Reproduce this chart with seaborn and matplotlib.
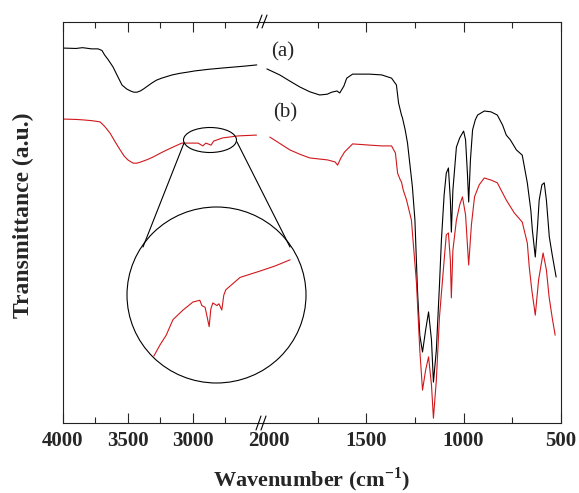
import seaborn as sns
import pandas as pd
import numpy as np
import matplotlib.pyplot as plt
from matplotlib.patches import Ellipse
from matplotlib.lines import Line2D

# FTIR spectra, transmittance in arbitrary units (0-100 scale)
wn_a = [4000, 3900, 3850, 3780, 3730, 3700, 3680, 3650, 3615, 3580, 3546, 3510, 3480,
        3455, 3430, 3405, 3380, 3350, 3315, 3280, 3240, 3200, 3160, 3100, 3040, 2985,
        2880, 2780, 2600, 2508,
        2010, 1944, 1890, 1841, 1790, 1739, 1700, 1677, 1650, 1636, 1615, 1600, 1570,
        1549, 1483, 1420, 1370, 1345, 1334, 1319, 1314, 1300, 1288, 1263, 1250, 1237,
        1225, 1211, 1195, 1180, 1165, 1155, 1140, 1124, 1114, 1100, 1089, 1078, 1068,
        1063, 1055, 1037, 1020, 1000, 990, 980, 974, 965, 954, 940, 928, 894, 860, 827,
        800, 781, 760, 729, 699, 673, 655, 647, 632, 620, 612, 598, 586, 575, 560, 545,
        525]
t_a = [93.5, 93.4, 93.6, 93.3, 93.3, 92.9, 91.8, 90.5, 88.8, 86.5, 84.3, 83.3, 82.8,
       82.5, 82.5, 82.8, 83.3, 84.0, 84.8, 85.5, 86.0, 86.4, 86.8, 87.2, 87.5, 87.8,
       88.2, 88.5, 89.0, 89.3,
       88.3, 86.8, 85.2, 83.8, 82.6, 81.8, 82.0, 82.5, 82.8, 82.3, 84.0, 86.0, 87.0,
       87.0, 87.0, 86.8, 86.0, 84.3, 79.8, 76.8, 76.1, 73.1, 69.8, 58.9, 50.6, 33.2,
       21.9, 17.7, 23.2, 27.7, 20.7, 10.2, 18.2, 34.4, 45.6, 56.9, 62.3, 63.6, 55.6,
       47.6, 58.1, 68.8, 71.1, 72.8, 70.6, 61.8, 55.1, 65.6, 73.1, 75.6, 76.8, 77.8,
       77.6, 76.8, 74.3, 71.8, 70.6, 68.1, 66.8, 59.9, 53.1, 48.1, 41.4, 49.4, 55.6,
       59.4, 59.9, 55.6, 46.4, 41.9, 36.4]

wn_b = [4000, 3900, 3850, 3780, 3715, 3680, 3638, 3600, 3560, 3530, 3500, 3460, 3430,
        3400, 3350, 3308, 3250, 3200, 3140, 3085, 2960, 2923, 2900, 2860, 2840, 2770,
        2650, 2510,
        1995, 1940, 1892, 1840, 1790, 1698, 1660, 1647, 1630, 1611, 1570, 1483, 1420,
        1370, 1350, 1339, 1325, 1319, 1310, 1293, 1268, 1242, 1225, 1211, 1195, 1180,
        1165, 1155, 1140, 1124, 1100, 1089, 1078, 1068, 1063, 1055, 1037, 1020, 1006,
        990, 974, 960, 944, 920, 894, 860, 827, 781, 740, 699, 673, 663, 650, 632, 615,
        592, 575, 561, 545, 530]
t_b = [75.8, 75.7, 75.6, 75.4, 75.1, 74.0, 72.3, 70.2, 68.1, 66.6, 65.6, 64.8, 64.8,
       65.1, 65.7, 66.3, 67.3, 68.1, 69.0, 69.8, 69.8, 69.1, 69.8, 69.3, 70.3, 71.1,
       71.6, 71.8,
       71.3, 69.6, 68.1, 67.0, 66.1, 65.6, 65.1, 64.3, 66.1, 67.6, 69.6, 69.3, 69.1,
       69.1, 67.3, 62.3, 60.6, 60.1, 58.1, 55.6, 50.6, 34.9, 18.2, 8.2, 13.2, 16.5,
       9.5, 1.2, 10.7, 26.4, 40.6, 46.9, 47.4, 40.6, 31.2, 43.1, 50.6, 54.4, 56.4,
       51.9, 39.4, 49.4, 56.4, 59.4, 61.1, 60.6, 59.9, 55.6, 52.4, 50.1, 44.9, 38.9,
       33.2, 26.9, 35.7, 42.4, 38.2, 31.4, 26.2, 21.9]

# magnified C-H region of spectrum (b) shown in the circle
wn_zoom = [3044, 3029, 3014, 2997, 2972, 2948, 2931, 2926, 2918, 2908, 2904, 2899,
           2889, 2884, 2877, 2872, 2867, 2832, 2783, 2746, 2709]
t_zoom = [15.3, 21.6, 27.0, 36.0, 41.5, 46.0, 47.0, 44.0, 43.0, 32.0, 42.0, 45.5,
          44.0, 45.0, 41.5, 50.0, 53.0, 60.0, 63.6, 66.5, 70.0]

ticks_hi = [4000, 3500, 3000]
ticks_lo = [2000, 1500, 1000, 500]
red = "#d0181c"

df = pd.concat([
    pd.DataFrame({"wn": wn_a, "t": t_a, "sample": "a"}),
    pd.DataFrame({"wn": wn_b, "t": t_b, "sample": "b"}),
])
pal = {"a": "black", "b": red}

sns.set_style("ticks")
plt.rcParams["font.family"] = ["Liberation Serif", "DejaVu Serif"]
plt.rcParams["mathtext.fontset"] = "custom"
plt.rcParams["mathtext.rm"] = "Liberation Serif"
plt.rcParams["mathtext.bf"] = "Liberation Serif:bold"

W, H = 579, 493
fig = plt.figure(figsize=(W / 100, H / 100), dpi=100)
ax1 = fig.add_axes([63 / W, 1 - 423 / H, 200 / W, 401 / H])
ax2 = fig.add_axes([263 / W, 1 - 423 / H, 298 / W, 401 / H])

sns.lineplot(data=df[df.wn > 2300], x="wn", y="t", hue="sample", palette=pal,
             estimator=None, linewidth=0.8, legend=False, ax=ax1)
sns.lineplot(data=df[df.wn < 2300], x="wn", y="t", hue="sample", palette=pal,
             estimator=None, linewidth=0.8, legend=False, ax=ax2)

ax1.set_xlim(4000, 2460)
ax2.set_xlim(2030, 500)
for ax in (ax1, ax2):
    ax.set_ylim(0, 100)
    ax.set_xlabel("")
    ax.set_ylabel("")
    ax.tick_params(left=False, right=False, labelleft=False)
    ax.tick_params(axis="x", which="major", direction="in", top=True, bottom=True,
                   length=7, width=0.8, pad=6, labelsize=15)
    ax.tick_params(axis="x", which="minor", direction="in", top=True, bottom=True,
                   length=4, width=0.8)
    for s in ax.spines.values():
        s.set_linewidth(0.8)
        s.set_color("#222222")
ax1.spines["right"].set_visible(False)
ax2.spines["left"].set_visible(False)

ax1.set_xticks(ticks_hi)
ax1.set_xticks([3750, 3250, 2750], minor=True)
ax2.set_xticks(ticks_lo)
ax2.set_xticks([1750, 1250, 750], minor=True)
for ax in (ax1, ax2):
    for lab in ax.get_xticklabels():
        lab.set_fontweight("bold")
t0 = ax2.xaxis.get_major_ticks()[0]
t0.tick1line.set_visible(False)
t0.tick2line.set_visible(False)

# zoomed inset
ins = fig.add_axes([127 / W, 1 - 383 / H, 179 / W, 176 / H])
sns.lineplot(x=wn_zoom, y=t_zoom, color=red, linewidth=0.8, estimator=None, ax=ins)
ins.set_xlim(3110, 2670)
ins.set_ylim(0, 100)
ins.axis("off")
ins.add_patch(Ellipse((0.5, 0.5), 1, 1, transform=ins.transAxes, fill=False,
                      lw=0.8, color="black", clip_on=False))

fig.add_artist(Ellipse((210 / W, 1 - 140 / H), 53 / W, 25 / H, transform=fig.transFigure,
                       fill=False, lw=0.8, color="black"))


def seg(x0, y0, x1, y1):
    fig.add_artist(Line2D([x0 / W, x1 / W], [1 - y0 / H, 1 - y1 / H],
                          transform=fig.transFigure, color="black", lw=0.8))


seg(184, 143, 143, 247)
seg(237, 142, 290, 247)
# axis break marks
seg(257, 28, 262, 15)
seg(262, 28, 267, 15)
seg(256, 430, 261, 416)
seg(261, 430, 266, 416)

fig.text(283 / W, 1 - 52 / H, "(a)", ha="center", va="center", fontsize=15)
fig.text(285 / W, 1 - 113 / H, "(b)", ha="center", va="center", fontsize=15)
fig.text(312 / W, 1 - 480 / H, r"Wavenumber (cm$^{\mathbf{-1}}$)", ha="center",
         va="center", fontsize=16, fontweight="bold")
fig.text(23 / W, 1 - 215 / H, "Transmittance (a.u.)", ha="center", va="center",
         rotation=90, fontsize=17, fontweight="bold")

fig.savefig("out.png", dpi=100)
